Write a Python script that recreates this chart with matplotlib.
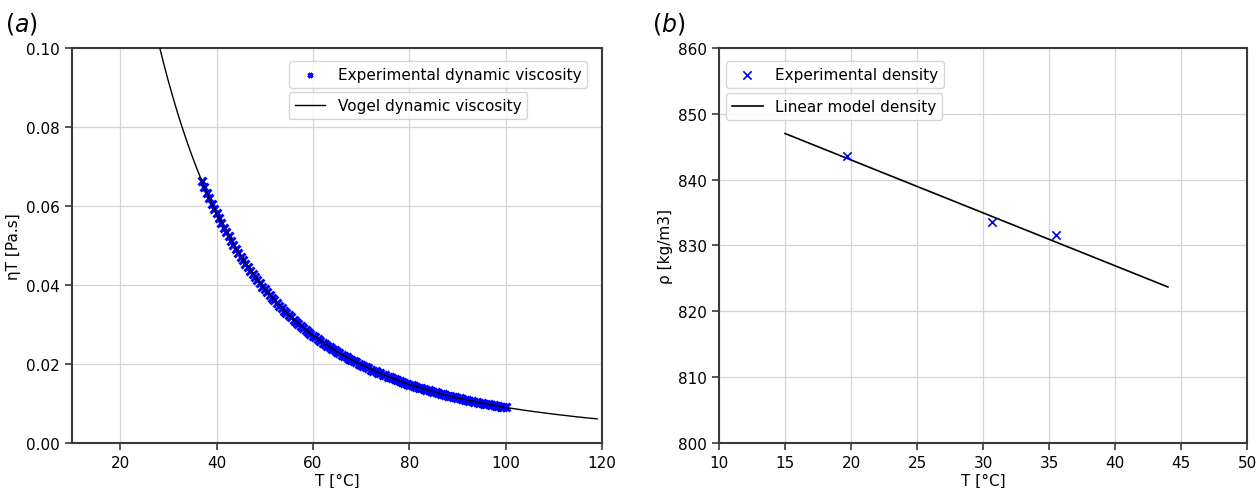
import numpy as np
import matplotlib.pyplot as plt

# ---------------------------------------------------------------------------
# Data
# ---------------------------------------------------------------------------
# (a) dynamic viscosity, readings every half degree along the blue band
T_exp_visc = np.arange(37, 100.01, 0.5)
eta_exp = [0.0662, 0.06475, 0.0633, 0.06197, 0.0606, 0.05935, 0.0581, 0.05687,
           0.0557, 0.05452, 0.0534, 0.05230, 0.0512, 0.05019, 0.0492, 0.04819,
           0.0472, 0.04629, 0.0454, 0.04449, 0.0436, 0.04278, 0.0420, 0.04116,
           0.0404, 0.03961, 0.0389, 0.03814, 0.0374, 0.03674, 0.0361, 0.03541,
           0.0348, 0.03414, 0.0335, 0.03293, 0.0324, 0.03177, 0.0312, 0.03067,
           0.0301, 0.02962, 0.0291, 0.02862, 0.0281, 0.02766, 0.0272, 0.02674,
           0.0263, 0.02586, 0.0254, 0.02502, 0.0246, 0.02422, 0.0238, 0.02345,
           0.0231, 0.02271, 0.0224, 0.02201, 0.0217, 0.02133, 0.0210, 0.02068,
           0.0204, 0.02006, 0.0198, 0.01946, 0.0192, 0.01889, 0.0186, 0.01833,
           0.0181, 0.01780, 0.0176, 0.01729, 0.0171, 0.01680, 0.0166, 0.01633,
           0.0161, 0.01588, 0.0157, 0.01544, 0.0152, 0.01502, 0.0148, 0.01462,
           0.0144, 0.01423, 0.0140, 0.01385, 0.0137, 0.01349, 0.0133, 0.01314,
           0.0130, 0.01280, 0.0126, 0.01248, 0.0123, 0.01216, 0.0120, 0.01186,
           0.0117, 0.01156, 0.0114, 0.01128, 0.0111, 0.01101, 0.0109, 0.01074,
           0.0106, 0.01049, 0.0104, 0.01024, 0.0101, 0.01000, 0.0099, 0.00977,
           0.0097, 0.00955, 0.0094, 0.00933, 0.0092, 0.00912, 0.0090]

T_vogel = [28, 29, 30, 31, 32, 33, 34, 35, 36, 37, 38, 40, 45, 50, 55, 60,
           65, 70, 75, 80, 85, 90, 95, 100, 105, 110, 115, 119]
eta_vogel = [0.1011, 0.0962, 0.0916, 0.0873, 0.0832, 0.0794, 0.0758, 0.0724,
             0.0692, 0.0662, 0.0633, 0.0581, 0.0472, 0.0389, 0.0324, 0.0272,
             0.0231, 0.0198, 0.0171, 0.0148, 0.0130, 0.0114, 0.0101, 0.0090,
             0.0081, 0.0073, 0.0066, 0.0061]

# (b) density
T_exp_rho = [19.7, 30.7, 35.5]
rho_exp = [843.6, 833.6, 831.6]
T_lin = [15.0, 44.0]
rho_lin = [847.0, 823.7]

plt.rcParams['font.family'] = 'DejaVu Sans'
plt.rcParams['font.size'] = 11

fig = plt.figure(figsize=(12.56, 4.89), dpi=100)
ax1 = fig.add_axes([0.0573, 0.092, 0.422, 0.808])
ax2 = fig.add_axes([0.5725, 0.092, 0.4204, 0.808])


def style_axes(ax):
    ax.grid(True, color='#d4d4d4', linewidth=0.9)
    ax.set_axisbelow(True)
    for s in ax.spines.values():
        s.set_color('#3a3a3a')
        s.set_linewidth(1.5)
    ax.tick_params(direction='out', length=5, width=1.2, color='#3a3a3a',
                   labelsize=11)


# ---------------------------------------------------------------------------
# (a)
# ---------------------------------------------------------------------------
sc = ax1.scatter(T_exp_visc, eta_exp, marker='x', color='blue', s=32,
                 linewidths=2.2, zorder=2, label='Experimental dynamic viscosity')
ln, = ax1.plot(T_vogel, eta_vogel, 'k-', linewidth=1.0, zorder=3,
               label='Vogel dynamic viscosity')
ax1.set_xlim(10, 120)
ax1.set_ylim(0, 0.10)
ax1.set_xticks([20, 40, 60, 80, 100, 120])
ax1.set_yticks([0.0, 0.02, 0.04, 0.06, 0.08, 0.10])
ax1.yaxis.set_major_formatter(plt.FormatStrFormatter('%.2f'))
ax1.set_xlabel('T [°C]', fontsize=11, labelpad=2)
ax1.set_ylabel('ηT [Pa.s]', fontsize=11)
style_axes(ax1)

leg1 = ax1.legend(handles=[sc], loc='upper left', bbox_to_anchor=(0.409, 0.967),
                  borderaxespad=0, fontsize=11, markerscale=0.55)
ax1.add_artist(leg1)
ax1.legend(handles=[ln], loc='upper left', bbox_to_anchor=(0.409, 0.889),
           borderaxespad=0, fontsize=11)
fig.text(0.004, 0.935, '$(a)$', fontsize=17)

# ---------------------------------------------------------------------------
# (b)
# ---------------------------------------------------------------------------
sc2 = ax2.scatter(T_exp_rho, rho_exp, marker='x', color='blue', s=36,
                  linewidths=1.2, zorder=3, label='Experimental density')
ln2, = ax2.plot(T_lin, rho_lin, 'k-', linewidth=1.2, zorder=2,
                label='Linear model density')
ax2.set_xlim(10, 50)
ax2.set_ylim(800, 860)
ax2.set_xticks(np.arange(10, 51, 5))
ax2.set_yticks(np.arange(800, 861, 10))
ax2.set_xlabel('T [°C]', fontsize=11, labelpad=2)
ax2.set_ylabel('ρ [kg/m3]', fontsize=11)
style_axes(ax2)

leg2 = ax2.legend(handles=[sc2], loc='upper left', bbox_to_anchor=(0.013, 0.967),
                  borderaxespad=0, fontsize=11)
ax2.add_artist(leg2)
ax2.legend(handles=[ln2], loc='upper left', bbox_to_anchor=(0.013, 0.886),
           borderaxespad=0, fontsize=11)
fig.text(0.519, 0.935, '$(b)$', fontsize=17)

fig.savefig('out.png', dpi=100)
